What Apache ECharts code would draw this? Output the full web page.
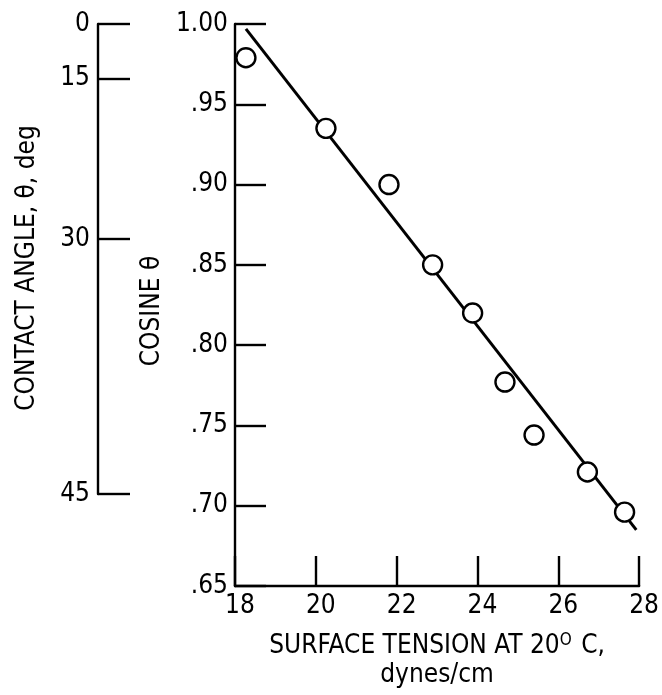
<!DOCTYPE html>
<html><head><meta charset="utf-8">
<script src="https://cdn.jsdelivr.net/npm/echarts@6/dist/echarts.min.js"></script>
<style>html,body{margin:0;padding:0;background:#fff}#c{width:662px;height:695px}</style>
</head><body><div id="c"></div>
<script>
// Data
const surfaceTension = [18.27, 20.25, 21.81, 22.89, 23.88, 24.68, 25.40, 26.72, 27.64];
const cosineTheta    = [0.979, 0.935, 0.900, 0.850, 0.820, 0.777, 0.744, 0.721, 0.696];
const fitTension = [18.27, 27.93];
const fitCosine  = [0.997, 0.685];
const xTickLabels = [18, 20, 22, 24, 26, 28];
const yTickLabels = [0.65, 0.70, 0.75, 0.80, 0.85, 0.90, 0.95, 1.00];
const angleTicks = [0, 15, 30, 45];

const FONT = '"Liberation Sans Narrow","DejaVu Sans Condensed","Liberation Sans",sans-serif';
const INK = '#000';
const rad = d => d * Math.PI / 180;
const angleCos = angleTicks.map(d => Math.cos(rad(d)));

const chart = echarts.init(document.getElementById('c'));
chart.setOption({
  backgroundColor: '#fff',
  animation: false,
  textStyle: { fontFamily: FONT, color: INK },
  grid: [
    { left: 235, right: 20, top: 24, bottom: 109 },
    { left: 98, width: 1, top: 24, height: 470 }
  ],
  xAxis: [
    {
      gridIndex: 0, type: 'value',
      min: xTickLabels[0], max: xTickLabels[xTickLabels.length - 1], interval: 2,
      axisLine: { show: true, lineStyle: { color: INK, width: 2.4 } },
      axisTick: { show: true, inside: true, length: 30, lineStyle: { color: INK, width: 2.4 } },
      axisLabel: { fontFamily: FONT, fontSize: 26, color: INK, margin: 7, padding: [0, 0, 0, 10] },
      splitLine: { show: false },
      name: '{a|SURFACE TENSION AT 20}{s|O}{a| C,}\n{a|dynes/cm}',
      nameLocation: 'middle', nameGap: 46,
      nameTextStyle: {
        fontFamily: FONT, color: INK, lineHeight: 29,
        rich: {
          a: { fontFamily: FONT, fontSize: 26, color: INK, lineHeight: 29 },
          s: { fontFamily: FONT, fontSize: 17, color: INK, verticalAlign: 'top', padding: [0, 2, 10, 0], lineHeight: 29 }
        }
      }
    },
    { gridIndex: 1, type: 'value', show: false, min: 0, max: 1 }
  ],
  yAxis: [
    {
      gridIndex: 0, type: 'value',
      min: yTickLabels[0], max: yTickLabels[yTickLabels.length - 1], interval: 0.05,
      axisLine: { show: true, lineStyle: { color: INK, width: 2.4 } },
      axisTick: { show: true, inside: true, length: 31, lineStyle: { color: INK, width: 2.4 } },
      axisLabel: {
        fontFamily: FONT, fontSize: 26, color: INK, margin: 7,
        formatter: v => v >= 0.999 ? '1.00' : '.' + String(Math.round(v * 100)).padStart(2, '0')
      },
      splitLine: { show: false },
      name: 'COSINE θ', nameLocation: 'middle', nameGap: 63,
      nameTextStyle: { fontFamily: FONT, fontSize: 26, color: INK, padding: [0, 12, 0, 0] }
    },
    {
      gridIndex: 1, type: 'value',
      min: angleCos[angleCos.length - 1], max: angleCos[0],
      axisLine: { show: true, lineStyle: { color: INK, width: 2.4 } },
      axisTick: { show: true, inside: true, length: 32, customValues: angleCos, lineStyle: { color: INK, width: 2.4 } },
      axisLabel: {
        fontFamily: FONT, fontSize: 26, color: INK, margin: 8, customValues: angleCos,
        formatter: v => String(Math.round(Math.acos(Math.min(1, v)) * 180 / Math.PI))
      },
      splitLine: { show: false },
      name: 'CONTACT ANGLE, θ, deg', nameLocation: 'middle', nameGap: 58,
      nameTextStyle: { fontFamily: FONT, fontSize: 26, color: INK, padding: [0, 18, 0, 0] }
    }
  ],
  series: [
    {
      type: 'line', xAxisIndex: 0, yAxisIndex: 0,
      data: fitTension.map((x, i) => [x, fitCosine[i]]),
      symbol: 'none', lineStyle: { color: INK, width: 3 }, z: 2, silent: true
    },
    {
      type: 'scatter', xAxisIndex: 0, yAxisIndex: 0,
      data: surfaceTension.map((x, i) => [x, cosineTheta[i]]),
      symbol: 'circle', symbolSize: 19,
      itemStyle: { color: '#fff', borderColor: INK, borderWidth: 2.4, opacity: 1 }, z: 3
    }
  ]
});
</script>
</body></html>
